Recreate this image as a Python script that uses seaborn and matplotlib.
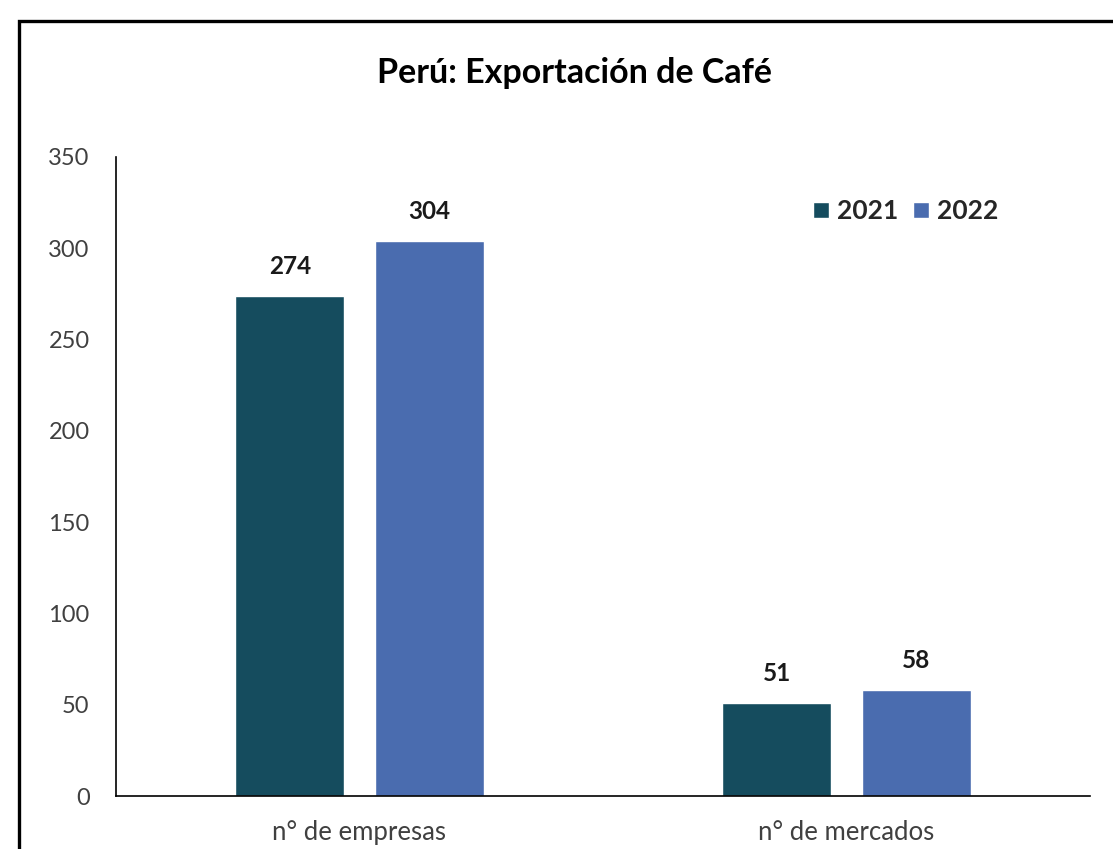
import matplotlib
matplotlib.use("Agg")
import matplotlib.pyplot as plt
import seaborn as sns
import pandas as pd
from matplotlib.patches import Rectangle

categories = ["n° de empresas", "n° de mercados"]
years = ["2021", "2022"]
values_2021 = [274, 51]
values_2022 = [304, 58]
yticks = [0, 50, 100, 150, 200, 250, 300, 350]
title = "Perú: Exportación de Café"

df = pd.DataFrame({
    "cat": categories * 2,
    "year": [years[0]] * 2 + [years[1]] * 2,
    "val": values_2021 + values_2022,
})

sns.set_theme(style="white")
plt.rcParams["font.family"] = ["Lato", "DejaVu Sans"]

fig = plt.figure(figsize=(11.13, 8.49), dpi=100)
ax = fig.add_axes([0.1042, 0.0624, 0.8751, 0.7527])

palette = {"2021": "#154c5e", "2022": "#4a6caf"}
sns.barplot(data=df, x="cat", y="val", hue="year", hue_order=years,
            order=categories, palette=palette, width=0.572, gap=0.217,
            saturation=1, ax=ax, legend=True)

ax.set_xlim(-0.5, 1.5)
ax.set_ylim(0, 350)
ax.set_yticks(yticks)
ax.set_xlabel("")
ax.set_ylabel("")
ax.tick_params(axis="y", length=0, pad=19, labelsize=17, labelcolor="#404040")
ax.tick_params(axis="x", length=0, pad=17, labelsize=18.5, labelcolor="#404040")
for s in ["top", "right"]:
    ax.spines[s].set_visible(False)
for s in ["left", "bottom"]:
    ax.spines[s].set_color("black")
    ax.spines[s].set_linewidth(1.2)

for cont in ax.containers:
    ax.bar_label(cont, fmt="%d", padding=13, fontsize=17.5, fontweight="bold",
                 color="#1a1a1a")

leg = ax.legend(loc="center right", bbox_to_anchor=(0.93, 0.915), frameon=False,
                ncol=2, handlelength=0.6, handleheight=0.6, handletextpad=0.3,
                columnspacing=0.55, prop={"size": 19, "weight": "bold"})

fig.text(0.516, 0.914, title, ha="center", va="center", fontsize=24.5,
         fontweight="bold", color="black")

border = Rectangle((19 / 1113, -0.2), 1.2, 0.2 + (1 - 21 / 849),
                   transform=fig.transFigure, fill=False, edgecolor="black",
                   linewidth=2.4, clip_on=False)
fig.patches.append(border)

fig.savefig("out.png", dpi=100)
